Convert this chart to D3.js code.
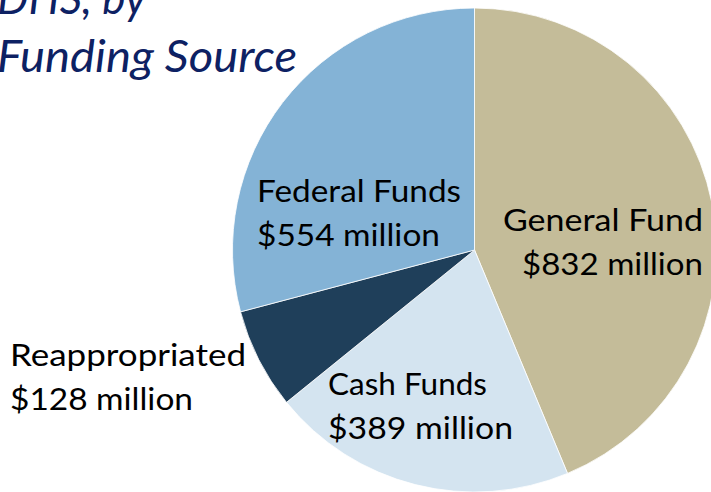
<!DOCTYPE html>
<html>
<head>
<meta charset="utf-8">
<script src="https://cdn.jsdelivr.net/npm/d3@7/dist/d3.min.js"></script>
<style>
    html, body { margin: 0; padding: 0; background: #fff; overflow: hidden; }
    svg { display: block; }
    .label { font-family: Lato, "Open Sans", sans-serif; fill: #000; }
    .title { font-family: Lato, "Open Sans", sans-serif; font-style: italic; fill: #0d2163; }
</style>
</head>
<body>
<svg id="chart"></svg>
<script>
// The data (millions of dollars)
const sources = ["General Fund", "Cash Funds", "Reappropriated", "Federal Funds"];
const amounts = [832, 389, 128, 554];
const valueLabels = ["$832 million", "$389 million", "$128 million", "$554 million"];
const titleLines = ["DHS, by", "Funding Source"];

// Global-ish config, same as usual
let config = {
    'svg': {width: 711, height: 492},
    'pie': {cx: 474.5, cy: 250, radius: 242},
    'label': {size: 30.5, lineGap: 44}
};

// Where each label sits (first baseline), how it is anchored,
// and how wide each of its two lines runs (the slide font is wider than ours)
let labelLayout = {
    "General Fund":   {x: 703, y: 231, anchor: "end",   widths: [200, 181]},
    "Cash Funds":     {x: 328, y: 395, anchor: "start", widths: [159, 185]},
    "Reappropriated": {x: 10,  y: 366, anchor: "start", widths: [236, 183]},
    "Federal Funds":  {x: 257, y: 202, anchor: "start", widths: [204, 183]}
};

let colors = d3.scaleOrdinal()
    .domain(sources)
    .range(["#c4bc99", "#d4e4f0", "#1f3f5a", "#84b3d6"]);

let svg = d3.select("#chart")
    .attr("width", config.svg.width)
    .attr("height", config.svg.height);

let data = sources.map((s, i) => ({source: s, amount: amounts[i], text: valueLabels[i]}));

// Pie starts at 12 o'clock and goes clockwise, keep given order
let pie = d3.pie()
    .sort(null)
    .value(d => d.amount);

let arc = d3.arc()
    .innerRadius(0)
    .outerRadius(config.pie.radius);

let pieGroup = svg.append("g")
    .attr("transform", translate(config.pie.cx, config.pie.cy));

pieGroup.selectAll("path")
    .data(pie(data))
    .enter()
    .append("path")
    .attr("d", arc)
    .style("fill", d => colors(d.data.source))
    .style("stroke", "#ffffff")
    .style("stroke-width", 0.8);

// Title, cut off at the top-left like the slide
let title = svg.append("g");
title.append("text")
    .attr("class", "title")
    .attr("x", 146)
    .attr("y", 14)
    .attr("text-anchor", "end")
    .style("font-size", "44px")
    .text(titleLines[0]);
title.append("text")
    .attr("class", "title")
    .attr("x", -3)
    .attr("y", 72)
    .attr("textLength", 300)
    .attr("lengthAdjust", "spacingAndGlyphs")
    .style("font-size", "44px")
    .text(titleLines[1]);

// Labels: name on first line, amount below
let labels = svg.append("g");
data.forEach(function(d) {
    let lay = labelLayout[d.source];
    let t = labels.append("text")
        .attr("class", "label")
        .attr("text-anchor", lay.anchor)
        .style("font-size", config.label.size + "px");
    [d.source, d.text].forEach(function(line, i) {
        t.append("tspan")
            .attr("x", lay.x)
            .attr("y", lay.y + i * config.label.lineGap)
            .attr("textLength", lay.widths[i])
            .attr("lengthAdjust", "spacingAndGlyphs")
            .text(line);
    });
});

function translate(x, y) {
    return 'translate(' + x + ',' + y + ')';
}
</script>
</body>
</html>
